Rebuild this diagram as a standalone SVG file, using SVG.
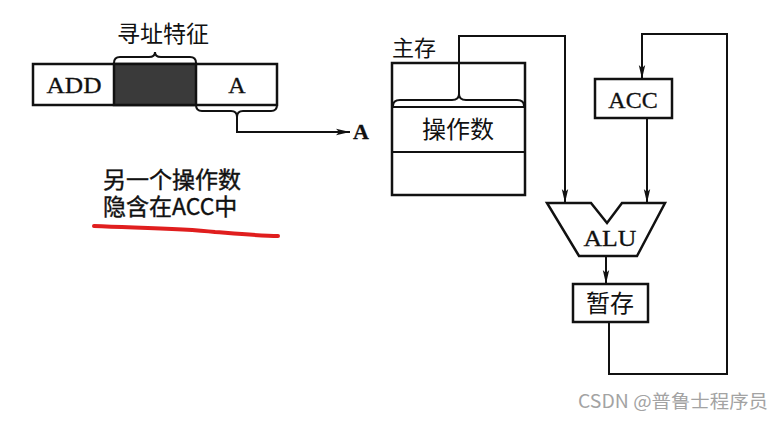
<svg xmlns="http://www.w3.org/2000/svg" width="784" height="421" viewBox="0 0 784 421">
<defs>
<style>
.box{fill:#fff;stroke:#111;stroke-width:2.5}
.ln{fill:none;stroke:#111;stroke-width:2}
.arr{fill:none;stroke:#111;stroke-width:2;marker-end:url(#ah)}
.cjk{font-family:"Noto Sans CJK SC","Noto Sans",sans-serif;fill:#111}
.ser{font-family:"Liberation Serif","DejaVu Serif",serif;fill:#111;stroke:#111;stroke-width:0.3}
</style>
<marker id="ah" viewBox="0 0 14 8" refX="14" refY="4" markerWidth="14" markerHeight="8" markerUnits="userSpaceOnUse" orient="auto">
<path d="M0,0.8 L14,4 L0,7.2 L3,4 Z" fill="#111"/>
</marker>
</defs>
<rect width="784" height="421" fill="#fff"/>

<g id="instruction">
<rect class="box" x="33" y="64" width="244" height="41"/>
<rect x="114" y="64" width="82" height="41" fill="#3a3a3a" stroke="#111" stroke-width="2.5"/>
<text class="ser" x="74" y="93" font-size="24" text-anchor="middle" textLength="55" lengthAdjust="spacingAndGlyphs">ADD</text>
<text class="ser" x="237" y="93" font-size="24" text-anchor="middle">A</text>
<path class="ln" d="M114,63 Q114,57 120,57 L149,57 Q155,57 155,52 Q155,57 161,57 L190,57 Q196,57 196,63"/>
<text class="cjk" x="163" y="42" font-size="23" text-anchor="middle">寻址特征</text>
</g>

<g id="operandA">
<text class="ser" x="361" y="139" font-size="22" font-weight="bold" text-anchor="middle">A</text>
</g>

<g id="note">
<text class="cjk" font-size="23" stroke="#111" stroke-width="0.4"><tspan x="103" y="188">另一个操作数</tspan><tspan x="103" y="215">隐含在ACC中</tspan></text>
<path d="M94,226 C140,228 180,228 215,232 C240,234 262,236 278,236" fill="none" stroke="#e01e1e" stroke-width="4" stroke-linecap="round"/>
</g>

<g id="memory">
<text class="cjk" x="392" y="56" font-size="22">主存</text>
<rect class="box" x="392" y="63" width="133" height="132"/>
<line class="ln" x1="392" y1="107" x2="525" y2="107"/>
<line class="ln" x1="392" y1="152" x2="525" y2="152"/>
<path class="ln" d="M393,106 Q393,100 400,100 L452,100 Q459,100 459,94 Q459,100 466,100 L517,100 Q524,100 524,106"/>
<text class="cjk" x="458" y="138" font-size="24" text-anchor="middle">操作数</text>
</g>

<g id="acc">
<rect class="box" x="595" y="79" width="77" height="39"/>
<text class="ser" x="633" y="108" font-size="24" text-anchor="middle">ACC</text>
</g>

<g id="alu">
<path class="box" d="M547,203 L591,203 L607,223 L622,203 L665,203 L637,256 L579,256 Z"/>
<text class="ser" x="610" y="246" font-size="24" text-anchor="middle" textLength="53" lengthAdjust="spacingAndGlyphs">ALU</text>
</g>

<g id="temp">
<rect class="box" x="573" y="284" width="75" height="38"/>
<text class="cjk" x="610" y="312" font-size="24" text-anchor="middle">暂存</text>
</g>

<g id="connectors">
<path class="ln" d="M196,105 Q196,111 202,111 L231,111 Q237,111 237,117 Q237,111 243,111 L271,111 Q277,111 277,105"/>
<path class="arr" d="M237,116 V132 H350"/>
<path class="arr" d="M459,94 V36 H565 V203"/>
<path class="arr" d="M647,118 V203"/>
<path class="arr" d="M606,256 V284"/>
<path class="arr" d="M609,322 V374 H727 V34 H642 V79"/>
</g>

<g id="watermark">
<text x="578" y="408" font-family="'Noto Sans CJK SC','Noto Sans',sans-serif" font-size="18" fill="#a3a3a3" textLength="190" lengthAdjust="spacingAndGlyphs">CSDN @普鲁士程序员</text>
</g>
</svg>
